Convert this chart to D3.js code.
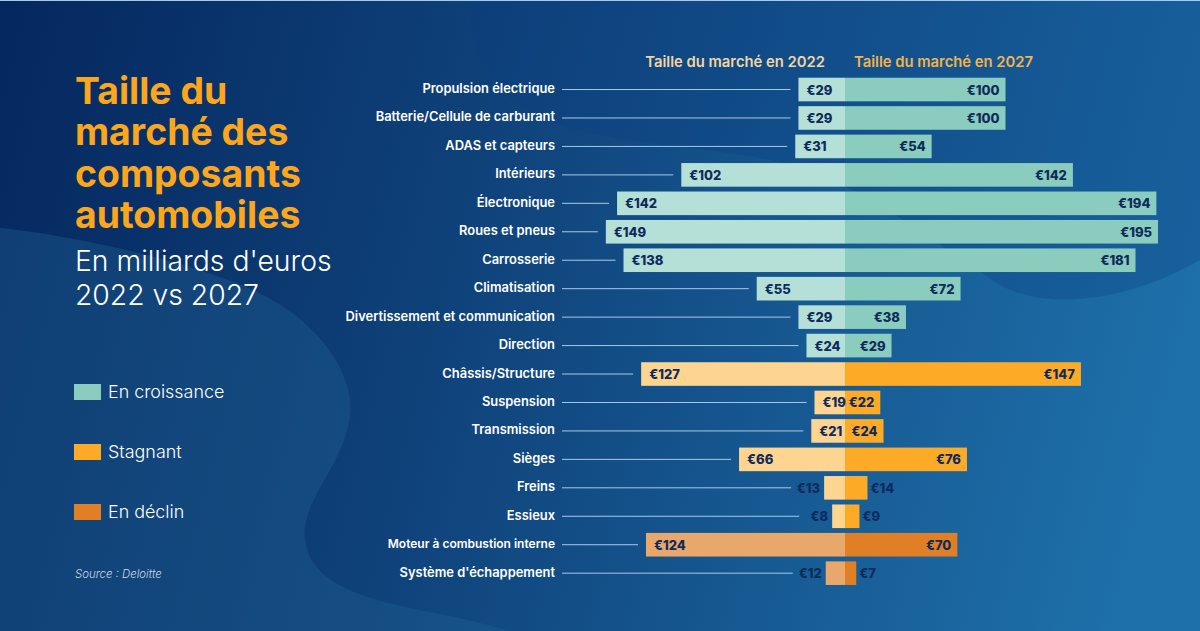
<!DOCTYPE html>
<html>
<head>
<meta charset="utf-8">
<script src="https://cdnjs.cloudflare.com/ajax/libs/d3/7.8.5/d3.min.js"></script>
<style>
  html, body { margin: 0; padding: 0; background: #0d3d75; }
  svg { display: block; font-family: Inter, "Open Sans", sans-serif; }
</style>
</head>
<body>
<svg id="chart" width="1200" height="631"></svg>
<script>
var categories = ["Propulsion électrique", "Batterie/Cellule de carburant", "ADAS et capteurs", "Intérieurs",
  "Électronique", "Roues et pneus", "Carrosserie", "Climatisation", "Divertissement et communication",
  "Direction", "Châssis/Structure", "Suspension", "Transmission", "Sièges", "Freins", "Essieux",
  "Moteur à combustion interne", "Système d'échappement"];
var values2022 = [29, 29, 31, 102, 142, 149, 138, 55, 29, 24, 127, 19, 21, 66, 13, 8, 124, 12];
var values2027 = [100, 100, 54, 142, 194, 195, 181, 72, 38, 29, 147, 22, 24, 76, 14, 9, 70, 7];
var trends = ["up", "up", "up", "up", "up", "up", "up", "up", "up", "up",
  "flat", "flat", "flat", "flat", "flat", "flat", "down", "down"];
var legendKeys = ["up", "flat", "down"];
var legendLabels = ["En croissance", "Stagnant", "En déclin"];

var width = 1200, height = 631;
var centerX = 845;
var pxPerEuro = 1.605;
var navy = "#0f2a5c";

var colorRight = d3.scaleOrdinal().domain(legendKeys).range(["#8accbd", "#fdab26", "#e07f26"]);
var colorLeft = d3.scaleOrdinal().domain(legendKeys).range(["#b5e0d8", "#fed491", "#e8a76b"]);

var xLeft = d3.scaleLinear().domain([0, 200]).range([centerX, centerX - 200 * pxPerEuro]);
var xRight = d3.scaleLinear().domain([0, 200]).range([centerX, centerX + 200 * pxPerEuro]);
var y = d3.scaleBand().domain(categories).range([75.3, 587.4]).paddingInner(0.17).paddingOuter(0.085);

var svg = d3.select("#chart");

// background
var defs = svg.append("defs");
var bg = defs.append("linearGradient").attr("id", "bg")
  .attr("gradientUnits", "userSpaceOnUse")
  .attr("x1", 0).attr("y1", 0).attr("x2", 1200).attr("y2", 300);
bg.append("stop").attr("offset", 0).attr("stop-color", "#05275f");
bg.append("stop").attr("offset", 0.4).attr("stop-color", "#0f4179");
bg.append("stop").attr("offset", 1).attr("stop-color", "#1e70aa");

svg.append("rect").attr("width", width).attr("height", height).attr("fill", "url(#bg)");

// soft blobs behind everything
svg.append("path")
  .attr("d", "M470,0 C465,50 500,105 553,123 C620,145 700,145 770,160 C860,180 930,240 1000,285 C1050,312 1130,300 1200,260 L1200,0 Z")
  .attr("fill", "#0a3f80").attr("fill-opacity", 0.3);
svg.append("path")
  .attr("d", "M0,228 C70,235 200,262 267,297 C320,325 355,375 350,415 C345,465 300,500 305,540 C310,585 370,600 420,610 C460,618 490,625 510,631 L0,631 Z")
  .attr("fill", "#1d5f90").attr("fill-opacity", 0.4);
svg.append("rect").attr("width", width).attr("height", 1).attr("fill", "#a9c9e6");

// title block
var titleLines = ["Taille du", "marché des", "composants", "automobiles"];
svg.append("g").selectAll("text").data(titleLines).enter().append("text")
  .attr("x", 75)
  .attr("y", function (d, i) { return 104 + i * 41.3; })
  .attr("font-size", 37.4).attr("font-weight", 700).attr("fill", "#fca61c")
  .text(function (d) { return d; });

var subLines = ["En milliards d'euros", "2022 vs 2027"];
svg.append("g").selectAll("text").data(subLines).enter().append("text")
  .attr("x", 75)
  .attr("y", function (d, i) { return 271 + i * 34; })
  .attr("font-size", 28.3).attr("font-weight", 300).attr("fill", "#ffffff")
  .text(function (d) { return d; });

// legend
var legend = svg.append("g").selectAll("g").data(legendKeys).enter().append("g")
  .attr("transform", function (d, i) { return "translate(74," + (384 + i * 60) + ")"; });
legend.append("rect").attr("width", 27).attr("height", 16).attr("fill", function (d) { return colorRight(d); });
legend.append("text").attr("x", 34).attr("y", 14).attr("font-size", 17.9).attr("font-weight", 300).attr("fill", "#ffffff")
  .text(function (d, i) { return legendLabels[i]; });

svg.append("text").attr("x", 75).attr("y", 578).attr("font-size", 11.4).attr("font-style", "italic").attr("font-weight", 300)
  .attr("fill", "#c9d9ea").text("Source : Deloitte");

// column headers
svg.append("text").attr("x", 825).attr("y", 67).attr("text-anchor", "end")
  .attr("font-size", 14.8).attr("font-weight", 600).attr("fill", "#f3d59f").text("Taille du marché en 2022");
svg.append("text").attr("x", 854).attr("y", 67)
  .attr("font-size", 14.8).attr("font-weight", 600).attr("fill", "#f4b445").text("Taille du marché en 2027");

// rows
var rows = categories.map(function (c, i) {
  return { name: c, v22: values2022[i], v27: values2027[i], trend: trends[i] };
});
var row = svg.append("g").selectAll("g").data(rows).enter().append("g")
  .attr("transform", function (d) { return "translate(0," + y(d.name) + ")"; });
var bh = y.bandwidth();

// the engine label is set a bit smaller than the others in the original
row.append("text").attr("x", 555).attr("y", bh / 2 + 3.5)
  .attr("text-anchor", "end")
  .attr("font-size", function (d) { return d.name === "Moteur à combustion interne" ? 12 : 12.9; })
  .attr("font-weight", 600).attr("fill", "#ffffff")
  .text(function (d) { return d.name; });

// leader line stops short of the bar, or of the outside label on tiny bars
row.append("line")
  .attr("x1", 562)
  .attr("x2", function (d) { return xLeft(d.v22) - (d.v22 < 15 ? 33 : 8); })
  .attr("y1", bh / 2).attr("y2", bh / 2)
  .attr("stroke", "#a9c9e6").attr("stroke-width", 1);

row.append("rect")
  .attr("x", function (d) { return xLeft(d.v22); })
  .attr("width", function (d) { return centerX - xLeft(d.v22); })
  .attr("height", bh)
  .attr("fill", function (d) { return colorLeft(d.trend); });
row.append("rect")
  .attr("x", centerX)
  .attr("width", function (d) { return xRight(d.v27) - centerX; })
  .attr("height", bh)
  .attr("fill", function (d) { return colorRight(d.trend); });

row.append("text")
  .attr("x", function (d) { return d.v22 < 15 ? xLeft(d.v22) - 4 : xLeft(d.v22) + 8; })
  .attr("y", bh / 2 + 5)
  .attr("text-anchor", function (d) { return d.v22 < 15 ? "end" : "start"; })
  .attr("font-size", 13).attr("font-weight", 800).attr("fill", navy)
  .text(function (d) { return "€" + d.v22; });
row.append("text")
  .attr("x", function (d) { return d.v27 < 15 ? xRight(d.v27) + 3 : xRight(d.v27) - 6; })
  .attr("y", bh / 2 + 5)
  .attr("text-anchor", function (d) { return d.v27 < 15 ? "start" : "end"; })
  .attr("font-size", 13).attr("font-weight", 800).attr("fill", navy)
  .text(function (d) { return "€" + d.v27; });
</script>
</body>
</html>
